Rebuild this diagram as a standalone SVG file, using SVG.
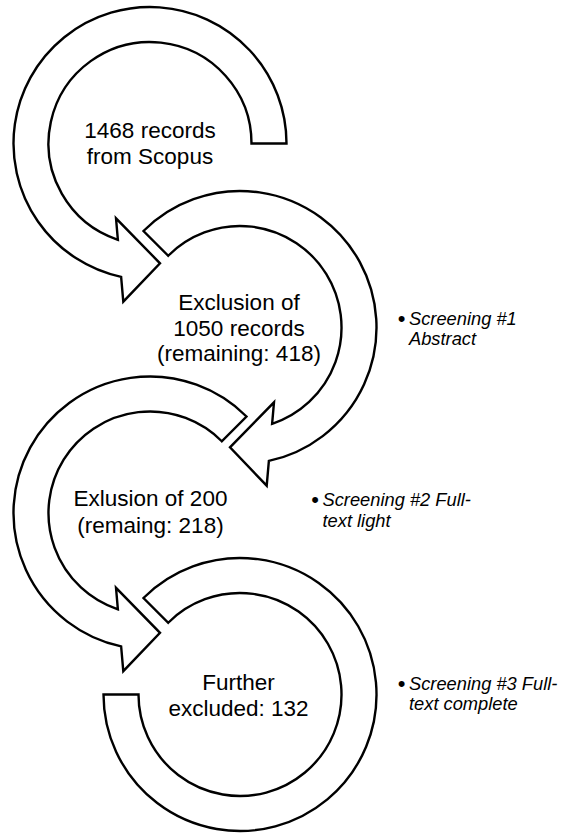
<svg xmlns="http://www.w3.org/2000/svg" xmlns:xlink="http://www.w3.org/1999/xlink" width="562" height="835" viewBox="0 0 562 835">
<style>
.ring{fill:#fff;stroke:#000;stroke-width:2.4;stroke-linejoin:miter}
.lbl{font-family:"Liberation Sans",Arial,sans-serif;font-size:22.5px;fill:#000;text-anchor:middle}
.side{font-family:"Liberation Sans",Arial,sans-serif;font-size:18.3px;font-style:italic;fill:#000}
.bul{font-size:22px;font-style:normal}
</style>
<defs>
<path id="arrowA" d="M 101.5 0 A 101.5 101.5 0 1 0 -32.12 96.28 L -34 74.8 L 10 119.8 L -26.7 158.2 L -28.87 133.41 A 136.5 136.5 0 1 1 136.5 0 Z"/>
<path id="arrowB" d="M 71.77 -71.77 A 101.5 101.5 0 1 0 -32.12 96.28 L -34 74.8 L 10 119.8 L -26.7 158.2 L -28.87 133.41 A 136.5 136.5 0 1 1 96.52 -96.52 Z"/>
<path id="arcC" d="M 71.77 -71.77 A 101.5 101.5 0 1 0 101.5 0 L 136.5 0 A 136.5 136.5 0 1 1 96.52 -96.52 Z"/>
</defs>
<g id="connectors"></g>
<g id="node1">
<use xlink:href="#arrowA" href="#arrowA" class="ring" transform="translate(150,143.5)"/>
<text class="lbl" x="150" y="138">1468 records</text>
<text class="lbl" x="150" y="164">from Scopus</text>
</g>
<g id="node2">
<use xlink:href="#arrowB" href="#arrowB" class="ring" transform="translate(240,327.5) scale(-1,1)"/>
<text class="lbl" x="239" y="309.5">Exclusion of</text>
<text class="lbl" x="239" y="335.5">1050 records</text>
<text class="lbl" x="239" y="361">(remaining: 418)</text>
</g>
<g id="node3">
<use xlink:href="#arrowB" href="#arrowB" class="ring" transform="translate(150,513)"/>
<text class="lbl" x="150.5" y="506">Exlusion of 200</text>
<text class="lbl" x="150.5" y="532.5">(remaing: 218)</text>
</g>
<g id="node4">
<use xlink:href="#arcC" href="#arcC" class="ring" transform="translate(240,694.5) scale(-1,1)"/>
<text class="lbl" x="238.5" y="690">Further</text>
<text class="lbl" x="238.5" y="716">excluded: 132</text>
</g>
<g id="note1">
<text class="side" y="325"><tspan class="bul" x="397.8" dy="1">•</tspan><tspan x="409" dy="-1">Screening #1</tspan></text>
<text class="side" x="409" y="345">Abstract</text>
</g>
<g id="note2">
<text class="side" y="506"><tspan class="bul" x="311.3" dy="1">•</tspan><tspan x="322.5" dy="-1">Screening #2 Full-</tspan></text>
<text class="side" x="322.5" y="526.5">text light</text>
</g>
<g id="note3">
<text class="side" y="690"><tspan class="bul" x="397.8" dy="1">•</tspan><tspan x="409" dy="-1">Screening #3 Full-</tspan></text>
<text class="side" x="409" y="710">text complete</text>
</g>
</svg>
